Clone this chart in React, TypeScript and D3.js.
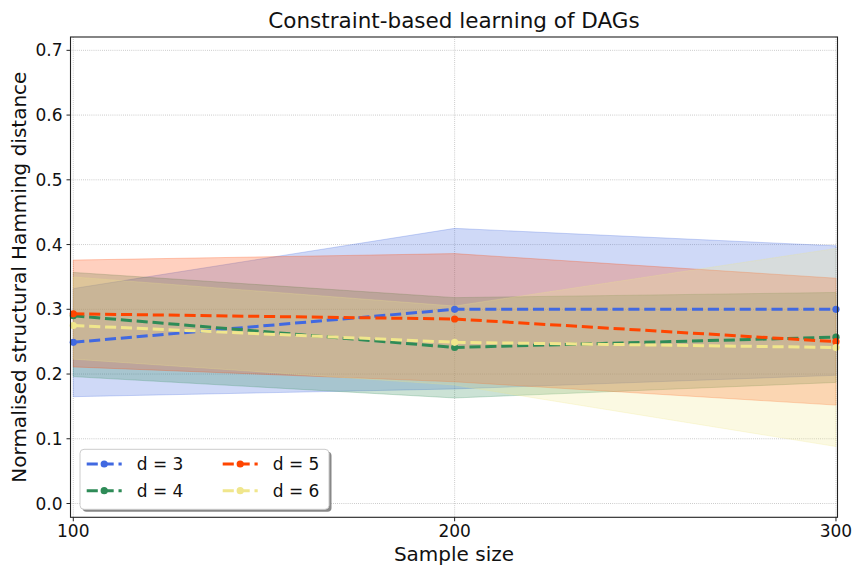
import { useEffect, useRef } from 'react';
import * as d3 from 'd3';

const sampleSizes = [100, 200, 300];
const seriesNames = ['d = 3', 'd = 4', 'd = 5', 'd = 6'];
const seriesColors = ['#4169E1', '#2E8B57', '#FF4500', '#F0E68C'];

const meanD3 = [0.249, 0.300, 0.300];
const meanD4 = [0.290, 0.241, 0.257];
const meanD5 = [0.293, 0.285, 0.250];
const meanD6 = [0.275, 0.249, 0.241];

const upperD3 = [0.332, 0.425, 0.398];
const upperD4 = [0.357, 0.318, 0.326];
const upperD5 = [0.376, 0.386, 0.348];
const upperD6 = [0.350, 0.305, 0.394];

const lowerD3 = [0.165, 0.177, 0.198];
const lowerD4 = [0.196, 0.163, 0.187];
const lowerD5 = [0.211, 0.188, 0.152];
const lowerD6 = [0.223, 0.183, 0.088];

const yTicks = [0, 0.1, 0.2, 0.3, 0.4, 0.5, 0.6, 0.7];

const W = 864;
const H = 576;
const M = { left: 70.5, right: 864 - 837.5, top: 37, bottom: 576 - 517.3 };
const FONT = 'DejaVu Sans, sans-serif';

export default function App() {
  const svgRef = useRef<SVGSVGElement>(null);

  useEffect(() => {
    if (!svgRef.current) return;
    const svg = d3.select(svgRef.current);
    svg.selectAll('*').remove();

    const means = [meanD3, meanD4, meanD5, meanD6];
    const uppers = [upperD3, upperD4, upperD5, upperD6];
    const lowers = [lowerD3, lowerD4, lowerD5, lowerD6];

    const x = d3.scaleLinear().domain([99.27, 300.4]).range([M.left, W - M.right]);
    const y = d3.scaleLinear().domain([-0.0213, 0.7206]).range([H - M.bottom, M.top]);

    svg.append('rect').attr('width', W).attr('height', H).attr('fill', 'white');

    // grid
    const grid = svg.append('g').attr('stroke', '#b0b0b0').attr('stroke-width', 0.8)
      .attr('stroke-dasharray', '0.8,1.3');
    yTicks.forEach(t => {
      grid.append('line').attr('x1', M.left).attr('x2', W - M.right)
        .attr('y1', y(t)).attr('y2', y(t));
    });
    sampleSizes.forEach(t => {
      grid.append('line').attr('y1', M.top).attr('y2', H - M.bottom)
        .attr('x1', x(t)).attr('x2', x(t));
    });

    // bands
    means.forEach((_, i) => {
      const area = d3.area<number>()
        .x((_d, j) => x(sampleSizes[j]))
        .y0((_d, j) => y(lowers[i][j]))
        .y1((_d, j) => y(uppers[i][j]));
      svg.append('path').datum(means[i]).attr('d', area)
        .attr('fill', seriesColors[i]).attr('fill-opacity', 0.25)
        .attr('stroke', seriesColors[i]).attr('stroke-opacity', 0.25).attr('stroke-width', 1);
    });

    // mean lines
    means.forEach((vals, i) => {
      const line = d3.line<number>()
        .x((_d, j) => x(sampleSizes[j]))
        .y(d => y(d));
      svg.append('path').datum(vals).attr('d', line)
        .attr('fill', 'none').attr('stroke', seriesColors[i]).attr('stroke-width', 3)
        .attr('stroke-dasharray', '11.1,4.8');
      svg.selectAll(null).data(vals).join('circle')
        .attr('cx', (_d, j) => x(sampleSizes[j])).attr('cy', d => y(d))
        .attr('r', 3.6).attr('fill', seriesColors[i]);
    });

    // spines
    svg.append('rect').attr('x', M.left).attr('y', M.top)
      .attr('width', W - M.left - M.right).attr('height', H - M.top - M.bottom)
      .attr('fill', 'none').attr('stroke', '#222').attr('stroke-width', 1.1);

    // ticks
    const ticks = svg.append('g').attr('font-family', FONT).attr('font-size', 17).attr('fill', '#111');
    yTicks.forEach(t => {
      ticks.append('line').attr('x1', M.left - 4).attr('x2', M.left)
        .attr('y1', y(t)).attr('y2', y(t)).attr('stroke', '#222');
      ticks.append('text').attr('x', M.left - 8).attr('y', y(t)).attr('dy', '0.36em')
        .attr('text-anchor', 'end').text(d3.format('.1f')(t));
    });
    sampleSizes.forEach(t => {
      ticks.append('line').attr('y1', H - M.bottom).attr('y2', H - M.bottom + 4)
        .attr('x1', x(t)).attr('x2', x(t)).attr('stroke', '#222');
      ticks.append('text').attr('x', x(t)).attr('y', H - M.bottom + 20)
        .attr('text-anchor', 'middle').text(String(t));
    });

    // labels
    svg.append('text').attr('x', (M.left + W - M.right) / 2).attr('y', 27.5)
      .attr('text-anchor', 'middle').attr('font-family', FONT).attr('font-size', 21.5)
      .attr('fill', '#111').text('Constraint-based learning of DAGs');
    svg.append('text').attr('x', (M.left + W - M.right) / 2).attr('y', 561)
      .attr('text-anchor', 'middle').attr('font-family', FONT).attr('font-size', 20)
      .attr('fill', '#111').text('Sample size');
    svg.append('text')
      .attr('transform', `translate(26,${(M.top + H - M.bottom) / 2}) rotate(-90)`)
      .attr('text-anchor', 'middle').attr('font-family', FONT).attr('font-size', 20)
      .attr('fill', '#111').text('Normalised structural Hamming distance');

    // legend
    const lg = svg.append('g');
    const lx = 80, ly = 449.3, lw = 249, lh = 60;
    lg.append('rect').attr('x', lx + 2.5).attr('y', ly + 2.5).attr('width', lw).attr('height', lh)
      .attr('rx', 4).attr('fill', '#888');
    lg.append('rect').attr('x', lx).attr('y', ly).attr('width', lw).attr('height', lh)
      .attr('rx', 4).attr('fill', 'white').attr('stroke', '#cccccc');
    seriesNames.forEach((name, i) => {
      const col = Math.floor(i / 2);
      const row = i % 2;
      const hx = lx + 6.7 + col * 136;
      const hy = 464 + row * 26.7;
      lg.append('line').attr('x1', hx).attr('x2', hx + 35).attr('y1', hy).attr('y2', hy)
        .attr('stroke', seriesColors[i]).attr('stroke-width', 3).attr('stroke-dasharray', '11.1,4.8');
      lg.append('circle').attr('cx', hx + 17.5).attr('cy', hy).attr('r', 3.6).attr('fill', seriesColors[i]);
      lg.append('text').attr('x', hx + 50).attr('y', hy).attr('dy', '0.36em')
        .attr('font-family', FONT).attr('font-size', 17).attr('fill', '#111').text(name);
    });
  }, []);

  return (
    <div style={{ position: 'absolute', left: 0, top: 0 }}>
      <svg ref={svgRef} width={W} height={H} />
    </div>
  );
}
